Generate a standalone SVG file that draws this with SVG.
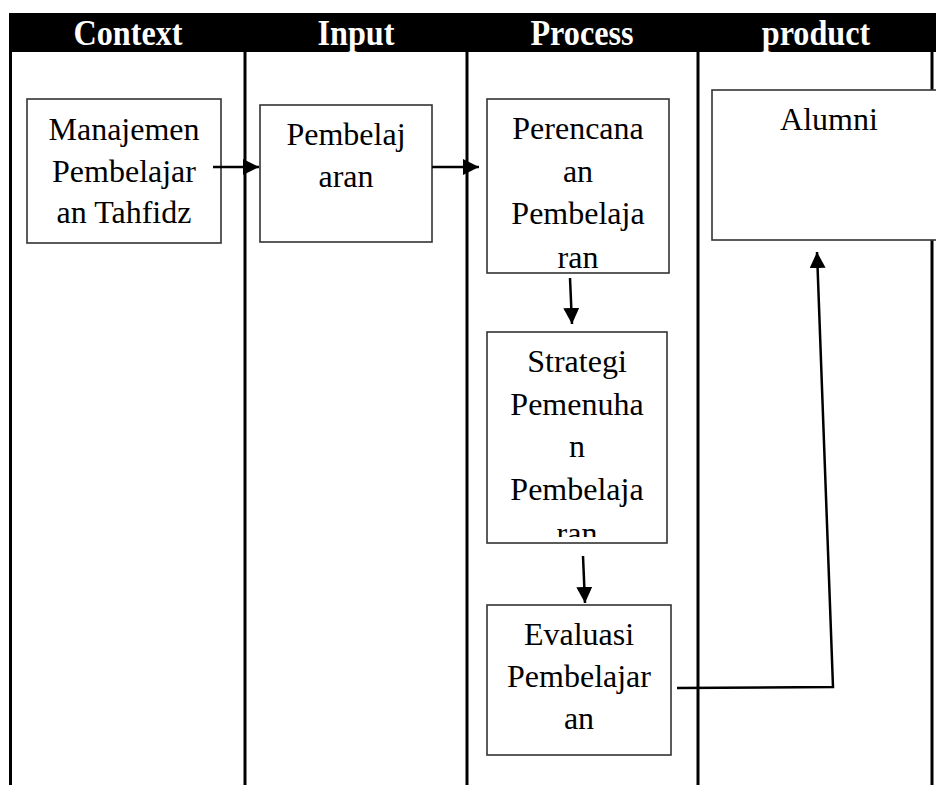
<svg xmlns="http://www.w3.org/2000/svg" width="936" height="785" viewBox="0 0 936 785">
<style>
.hdr{font-family:"Liberation Serif","Times New Roman",serif;font-weight:bold;font-size:35px;fill:#fff;text-anchor:middle}
.lbl{font-family:"Liberation Serif","Times New Roman",serif;font-size:32px;fill:#000;text-anchor:middle}
.box{fill:#fff;stroke:#333;stroke-width:1.6}
.col{stroke:#000;stroke-width:3;fill:none}
.con{stroke:#000;stroke-width:2.5;fill:none}
</style>
<defs>
<marker id="ah" markerUnits="userSpaceOnUse" markerWidth="17" markerHeight="16" refX="16" refY="8" orient="auto">
<path d="M0,0 L16,8 L0,16 z" fill="#000"/>
</marker>
<clipPath id="c1"><rect x="488" y="100" width="180" height="172"/></clipPath>
<clipPath id="c2"><rect x="488" y="333" width="178" height="204"/></clipPath>
</defs>
<rect width="936" height="785" fill="#fff"/>
<g id="table">
<rect x="9" y="13" width="927" height="39" fill="#000"/>
<text class="hdr" transform="translate(128,45) scale(0.92,1.05)">Context</text>
<text class="hdr" transform="translate(356,45) scale(0.92,1.05)">Input</text>
<text class="hdr" transform="translate(582,45) scale(0.92,1.05)">Process</text>
<text class="hdr" transform="translate(816,45) scale(0.92,1.05)">product</text>
<line class="col" x1="10.5" y1="52" x2="10.5" y2="785"/>
<line class="col" x1="245" y1="52" x2="245" y2="785"/>
<line class="col" x1="467" y1="52" x2="467" y2="785"/>
<line class="col" x1="698" y1="52" x2="698" y2="785"/>
<line class="col" x1="932" y1="52" x2="932" y2="785"/>
</g>
<g id="node-manajemen">
<rect class="box" x="27" y="99" width="194" height="144"/>
<text class="lbl" x="124" y="140">Manajemen</text>
<text class="lbl" x="124" y="182">Pembelajar</text>
<text class="lbl" x="124" y="223">an Tahfidz</text>
</g>
<g id="node-pembelajaran">
<rect class="box" x="260" y="105" width="172" height="137"/>
<text class="lbl" x="346" y="145">Pembelaj</text>
<text class="lbl" x="346" y="187">aran</text>
</g>
<g id="node-perencanaan">
<rect class="box" x="487" y="99" width="182" height="174"/>
<g clip-path="url(#c1)">
<text class="lbl" x="578" y="139">Perencana</text>
<text class="lbl" x="578" y="182">an</text>
<text class="lbl" x="578" y="224">Pembelaja</text>
<text class="lbl" x="578" y="268">ran</text>
</g>
</g>
<g id="node-strategi">
<rect class="box" x="487" y="332" width="180" height="211"/>
<g clip-path="url(#c2)">
<text class="lbl" x="577" y="372">Strategi</text>
<text class="lbl" x="577" y="415">Pemenuha</text>
<text class="lbl" x="577" y="457">n</text>
<text class="lbl" x="577" y="500">Pembelaja</text>
<text class="lbl" x="577" y="544">ran</text>
</g>
</g>
<g id="node-evaluasi">
<rect class="box" x="487" y="605" width="184" height="150"/>
<text class="lbl" x="579" y="645">Evaluasi</text>
<text class="lbl" x="579" y="687">Pembelajar</text>
<text class="lbl" x="579" y="729">an</text>
</g>
<g id="node-alumni">
<rect class="box" x="712" y="90" width="236" height="150"/>
<text class="lbl" x="829" y="130">Alumni</text>
</g>
<g id="connectors">
<line class="con" x1="213" y1="167" x2="259" y2="167" marker-end="url(#ah)"/>
<line class="con" x1="432" y1="167" x2="479" y2="167" marker-end="url(#ah)"/>
<line class="con" x1="570" y1="278" x2="572" y2="324" marker-end="url(#ah)"/>
<line class="con" x1="583" y1="556" x2="585" y2="603" marker-end="url(#ah)"/>
<polyline class="con" points="677,688 833,687 817,252" marker-end="url(#ah)"/>
</g>
</svg>
